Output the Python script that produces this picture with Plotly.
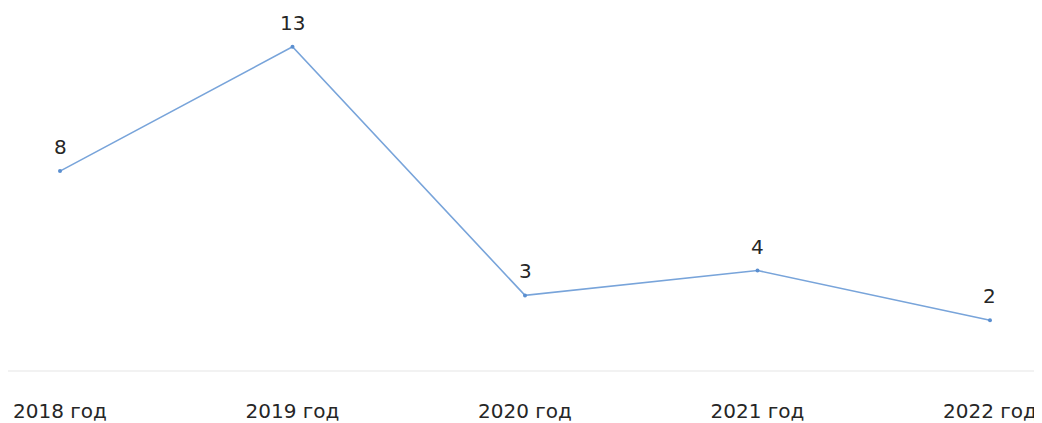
import plotly.graph_objects as go

categories = ["2018 год", "2019 год", "2020 год", "2021 год", "2022 год"]
values = [8, 13, 3, 4, 2]

FONT = "DejaVu Sans"
TEXT_COLOR = "#262626"

fig = go.Figure()
fig.add_trace(go.Scatter(
    x=list(range(len(categories))),
    y=values,
    mode="lines+markers",
    line=dict(color="#78a4da", width=1.6),
    marker=dict(size=4, color="#5b8fd0"),
    cliponaxis=False,
    hoverinfo="skip",
))

for i, v in enumerate(values):
    fig.add_annotation(
        x=i, y=v, text=str(v), showarrow=False,
        xanchor="center", yanchor="middle", yshift=24,
        font=dict(family=FONT, size=20, color=TEXT_COLOR),
    )

fig.update_layout(
    width=1034, height=415,
    margin=dict(l=0, r=0, t=0, b=51),
    paper_bgcolor="white", plot_bgcolor="white",
    showlegend=False,
    font=dict(family=FONT, size=20, color=TEXT_COLOR),
)
fig.update_xaxes(
    range=[-0.2237, 4.2237],
    tickmode="array",
    tickvals=list(range(len(categories))),
    ticktext=categories,
    showgrid=False, zeroline=False,
    showline=True, linecolor="#f2f2f2", linewidth=2,
    ticks="", ticklabelstandoff=22,
    tickfont=dict(family=FONT, size=20, color=TEXT_COLOR),
)
fig.update_yaxes(range=[0, 14.56], visible=False)

fig.write_html("out.html")
